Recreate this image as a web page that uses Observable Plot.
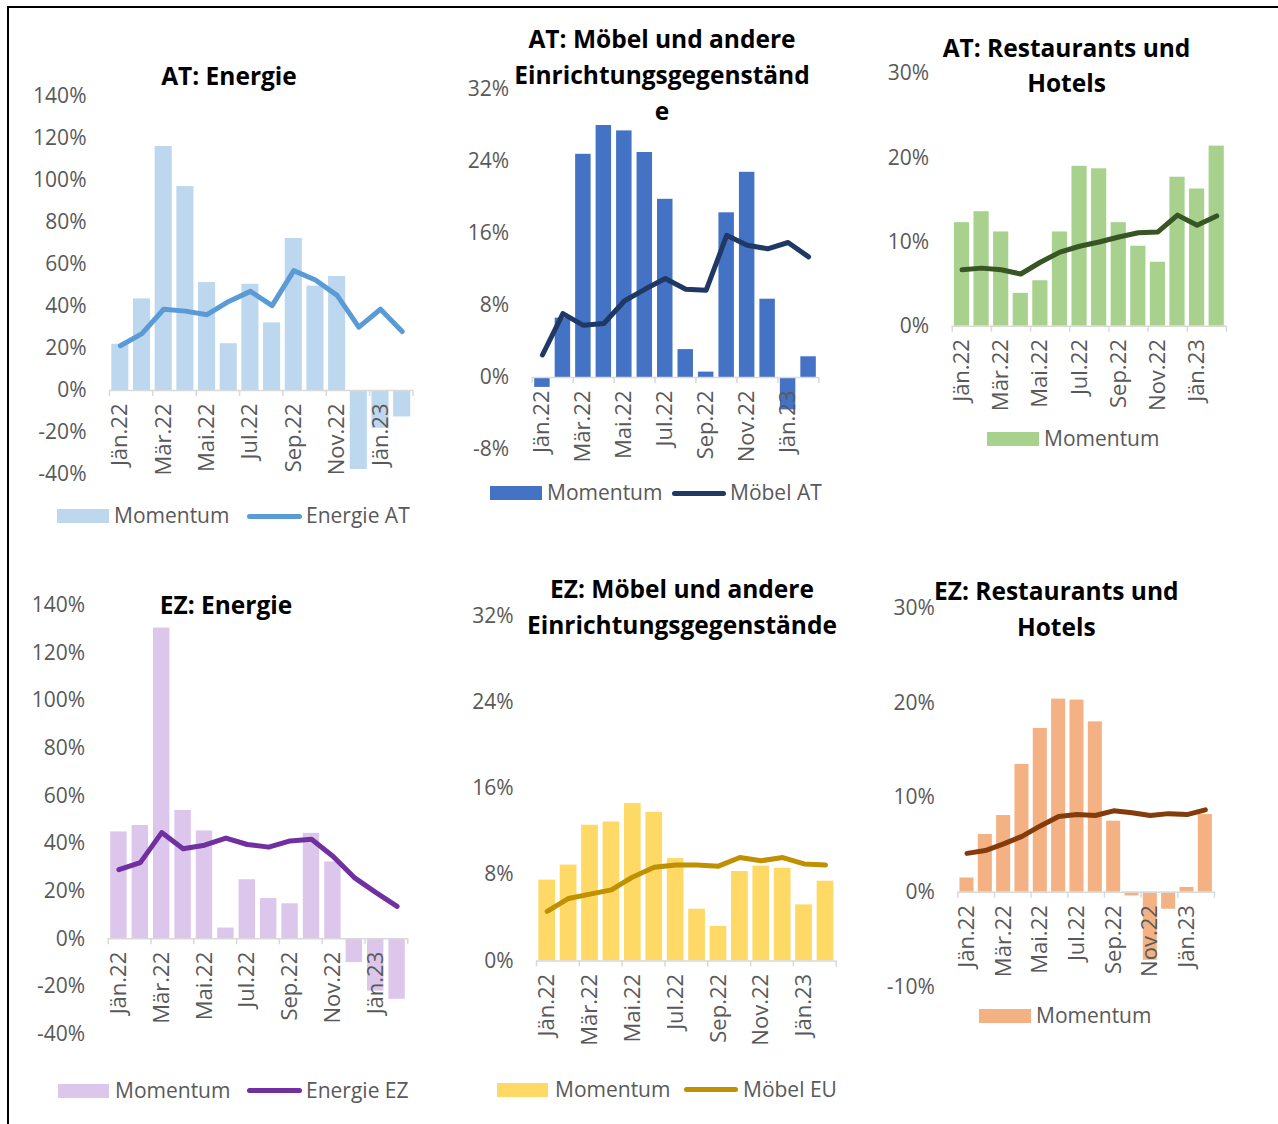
<!DOCTYPE html>
<html><head><meta charset="utf-8">
<script src="https://cdn.jsdelivr.net/npm/d3@7"></script>
<script src="https://cdn.jsdelivr.net/npm/@observablehq/plot@0.6"></script>
<style>
body{margin:0;background:#fff;}
#root{position:relative;width:1278px;height:1124px;overflow:hidden;font-family:"Open Sans",sans-serif;background:#fff;}
.title{position:absolute;font-weight:700;font-size:24.5px;color:#000;white-space:nowrap;transform:translate(-50%,-50%);line-height:1;}
.legtxt{position:absolute;font-size:21px;color:#595959;white-space:nowrap;line-height:1;transform:translateY(-52%);}
.sw{position:absolute;}
.holder{position:absolute;}
.border{position:absolute;background:#000;}
</style></head><body><div id="root"></div>
<script>
// ---- data ----
const months = ["Jän.22","Feb.22","Mär.22","Apr.22","Mai.22","Jun.22","Jul.22","Aug.22","Sep.22","Okt.22","Nov.22","Dez.22","Jän.23","Feb.23"];

const atEnergieMomentum = [22.0, 43.6, 116.2, 97.1, 51.4, 22.3, 50.6, 32.2, 72.4, 49.7, 54.3, -37.6, -18.0, -12.6];
const atEnergieLine     = [21.3, 27.1, 38.7, 37.8, 36.1, 42.4, 47.2, 40.4, 57.1, 52.6, 45.3, 30.2, 38.7, 28.1];

const atMoebelMomentum = [-1.1, 6.6, 24.8, 28.0, 27.4, 25.0, 19.8, 3.1, 0.6, 18.3, 22.8, 8.7, -3.6, 2.3];
const atMoebelLine     = [2.5, 7.1, 5.8, 6.0, 8.5, 9.8, 11.0, 9.8, 9.7, 15.8, 14.7, 14.3, 15.0, 13.4];

const atRestMomentum = [12.3, 13.6, 11.2, 3.9, 5.4, 11.2, 19.0, 18.7, 12.3, 9.5, 7.6, 17.7, 16.3, 21.4];
const atRestLine     = [6.7, 6.9, 6.7, 6.2, 7.6, 8.8, 9.5, 10.0, 10.6, 11.1, 11.2, 13.2, 12.0, 13.1];

const ezEnergieMomentum = [44.9, 47.6, 130.5, 53.9, 45.3, 4.5, 24.8, 16.9, 14.7, 44.3, 32.3, -10.0, -22.0, -25.4];
const ezEnergieLine     = [29.0, 32.0, 44.6, 37.8, 39.3, 42.3, 39.6, 38.5, 41.1, 41.8, 34.7, 25.7, 19.5, 13.6];

const ezMoebelMomentum = [7.5, 8.9, 12.6, 12.9, 14.6, 13.8, 9.5, 4.8, 3.2, 8.3, 8.8, 8.6, 5.2, 7.4];
const ezMoebelLine     = [4.6, 5.8, 6.2, 6.6, 7.8, 8.7, 8.9, 8.9, 8.8, 9.6, 9.3, 9.6, 9.0, 8.9];

const ezRestMomentum = [1.5, 6.1, 8.1, 13.5, 17.3, 20.4, 20.3, 18.0, 7.5, -0.4, -7.2, -1.8, 0.5, 8.2];
const ezRestLine     = [4.1, 4.4, 5.1, 5.9, 7.0, 8.0, 8.2, 8.1, 8.6, 8.4, 8.1, 8.3, 8.2, 8.7];

const energyTicks = [-40, -20, 0, 20, 40, 60, 80, 100, 120, 140];
const moebelTicksAT = [-8, 0, 8, 16, 24, 32];
const moebelTicksEZ = [0, 8, 16, 24, 32];
const restTicksAT = [0, 10, 20, 30];
const restTicksEZ = [-10, 0, 10, 20, 30];

// ---- layout ----
const panels = [
  {left:0, top:0, w:430, h:560, fx0:109, fx1:412.5, fy0:96, fy1:474, yDomain:[-40,140], yTicks:energyTicks,
   mom:atEnergieMomentum, line:atEnergieLine, bar:"#BDD7EE", lineColor:"#5B9BD5", inset:2.3,
   titles:[["AT: Energie",229,76]],
   legend:{y:516, rect:[57,109], t1:114, line:[247,302], t2:306, name:"Energie AT"}},
  {left:430, top:0, w:430, h:560, fx0:531.7, fx1:818.3, fy0:89, fy1:449, yDomain:[-8,32], yTicks:moebelTicksAT,
   mom:atMoebelMomentum, line:atMoebelLine, bar:"#4472C4", lineColor:"#203864", inset:2.5,
   titles:[["AT: Möbel und andere",662,39],["Einrichtungsgegenständ",662,75],["e",662,111]],
   legend:{y:493, rect:[490,542], t1:547, line:[672,726], t2:730, name:"Möbel AT"}},
  {left:860, top:0, w:418, h:560, fx0:951.7, fx1:1226, fy0:73.2, fy1:325.7, yDomain:[0,30], yTicks:restTicksAT,
   mom:atRestMomentum, line:atRestLine, bar:"#A9D18E", lineColor:"#375623", inset:2.2,
   titles:[["AT: Restaurants und",1066.5,48],["Hotels",1066.5,83]],
   legend:{y:438.6, rect:[987,1039], t1:1044}},
  {left:0, top:560, w:430, h:564, fx0:107.7, fx1:407.3, fy0:605, fy1:1033.5, yDomain:[-40,140], yTicks:energyTicks,
   mom:ezEnergieMomentum, line:ezEnergieLine, bar:"#DCC6EC", lineColor:"#7030A0", inset:2.5,
   titles:[["EZ: Energie",226,605]],
   legend:{y:1090.6, rect:[58,109], t1:115, line:[247,302], t2:306, name:"Energie EZ"}},
  {left:430, top:560, w:430, h:564, fx0:536, fx1:835.7, fy0:615.8, fy1:960.4, yDomain:[0,32], yTicks:moebelTicksEZ,
   mom:ezMoebelMomentum, line:ezMoebelLine, bar:"#FFD966", lineColor:"#BF9000", inset:2.35,
   titles:[["EZ: Möbel und andere",682,589],["Einrichtungsgegenstände",682,625]],
   legend:{y:1089.5, rect:[497,548], t1:555, line:[684,738], t2:743, name:"Möbel EU"}},
  {left:860, top:560, w:418, h:564, fx0:957.3, fx1:1214, fy0:607.8, fy1:986.3, yDomain:[-10,30], yTicks:restTicksEZ,
   mom:ezRestMomentum, line:ezRestLine, bar:"#F4B183", lineColor:"#843C0C", inset:2.15,
   titles:[["EZ: Restaurants und",1056.3,590.6],["Hotels",1056.3,626.5]],
   legend:{y:1016, rect:[979,1031], t1:1036}}
];

const root = document.getElementById("root");
function addDiv(cls, css, text) {
  const d = document.createElement("div");
  d.className = cls;
  Object.assign(d.style, css);
  if (text != null) d.textContent = text;
  root.appendChild(d);
  return d;
}

// borders
addDiv("border", {left:"7px", top:"6px", width:"1271px", height:"2px"});
addDiv("border", {left:"7px", top:"6px", width:"2px", height:"1118px"});

const axisGray = "#D9D9D9";
const textGray = "#595959";
const font = '"Open Sans", sans-serif';

for (const p of panels) {
  const rows = months.map((m, i) => ({i, m, mom: p.mom[i], val: p.line[i]}));
  const bounds = d3.range(0, months.length + 1, 2);
  const labelRows = rows.filter(d => d.i % 2 === 0);
  const chart = Plot.plot({
    width: p.w, height: p.h,
    marginLeft: p.fx0 - p.left, marginRight: p.left + p.w - p.fx1,
    marginTop: p.fy0 - p.top, marginBottom: p.top + p.h - p.fy1,
    x: {domain: [0, months.length], axis: null},
    y: {domain: p.yDomain, axis: null},
    style: {fontFamily: font, fontSize: "21px", color: textGray, background: "transparent", overflow: "visible"},
    marks: [
      Plot.axisY({ticks: p.yTicks, tickFormat: d => d + "%", tickSize: 0, tickPadding: 23, label: null, fontSize: 21, fill: textGray}),
      Plot.rect(rows, {x1: "i", x2: d => d.i + 1, y1: 0, y2: "mom", fill: p.bar, insetLeft: p.inset, insetRight: p.inset}),
      Plot.ruleY([0], {stroke: axisGray, strokeWidth: 1.5}),
      Plot.ruleX(bounds, {x: d => d, y1: 0, y2: 0, insetBottom: -6, stroke: axisGray, strokeWidth: 1.5}),
      Plot.text(labelRows, {x: d => d.i + 0.5, y: 0, text: "m", rotate: -90, textAnchor: "end", dy: 13, fill: textGray, fontSize: 22}),
      Plot.line(rows, {x: d => d.i + 0.5, y: "val", stroke: p.lineColor, strokeWidth: 5, strokeLinejoin: "round", strokeLinecap: "round"})
    ]
  });
  const holder = addDiv("holder", {left: p.left + "px", top: p.top + "px", width: p.w + "px", height: p.h + "px"});
  holder.appendChild(chart);

  for (const [t, cx, cy] of p.titles) {
    addDiv("title", {left: cx + "px", top: cy + "px"}, t);
  }
  const L = p.legend;
  addDiv("sw", {left: L.rect[0] + "px", top: (L.y - 7) + "px", width: (L.rect[1] - L.rect[0]) + "px", height: "14px", background: p.bar});
  addDiv("legtxt", {left: L.t1 + "px", top: L.y + "px"}, "Momentum");
  if (L.name) {
    addDiv("sw", {left: L.line[0] + "px", top: (L.y - 2.5) + "px", width: (L.line[1] - L.line[0]) + "px", height: "5px", background: p.lineColor, borderRadius: "3px"});
    addDiv("legtxt", {left: L.t2 + "px", top: L.y + "px"}, L.name);
  }
}
</script></body></html>
